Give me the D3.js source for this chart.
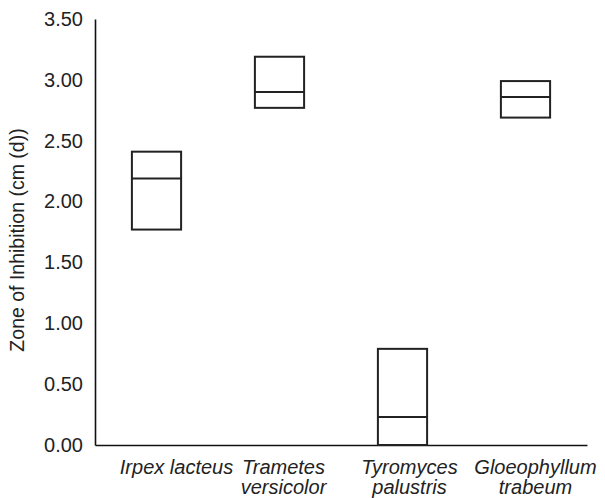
<!DOCTYPE html>
<html>
<head>
<meta charset="utf-8">
<script src="https://cdn.jsdelivr.net/npm/d3@7"></script>
<style>
  html, body { margin: 0; padding: 0; background: #fff; }
  svg text { font-family: "Liberation Sans", Arial, sans-serif; fill: #222; }
</style>
</head>
<body>
<svg id="chart" width="605" height="498"></svg>
<script>
// Fungal species (each label line drawn separately)
const categories = ["Irpex lacteus", "Trametes versicolor", "Tyromyces palustris", "Gloeophyllum trabeum"];
const categoryLines = [["Irpex lacteus"], ["Trametes", "versicolor"], ["Tyromyces", "palustris"], ["Gloeophyllum", "trabeum"]];

// Zone of inhibition, cm: box bottom, median line, box top
const lowValues    = [1.77, 2.77, 0.00, 2.69];
const medianValues = [2.19, 2.90, 0.23, 2.86];
const highValues   = [2.41, 3.19, 0.79, 2.99];

const yTicks = [0, 0.5, 1, 1.5, 2, 2.5, 3, 3.5];
const yTitle = "Zone of Inhibition (cm (d))";

const svg = d3.select("#chart");
const margin = { left: 95, right: 18, top: 19, bottom: 53 };
const W = 605, H = 498;

const x = d3.scaleBand()
  .domain(categories)
  .range([margin.left, W - margin.right])
  .paddingInner(0.6)
  .paddingOuter(0.3);

const y = d3.scaleLinear()
  .domain([0, 3.5])
  .range([H - margin.bottom, margin.top]);

// Horizontal offsets of the category captions relative to their band centres
const labelShift = [20, 4, 7, 10];

// Y axis
const yAxis = svg.append("g")
  .attr("transform", `translate(${margin.left},0)`)
  .call(d3.axisLeft(y).tickValues(yTicks).tickFormat(d3.format(".2f")).tickSize(0).tickPadding(12));
yAxis.select(".domain").attr("stroke", "#111").attr("stroke-width", 1.6);
yAxis.selectAll("text").attr("font-size", 20).attr("font-family", null).attr("fill", "#222");

// X axis
const xAxis = svg.append("g")
  .attr("transform", `translate(0,${y(0)})`)
  .call(d3.axisBottom(x).tickSize(0).tickFormat(""));
xAxis.select(".domain").attr("stroke", "#111").attr("stroke-width", 1.6);
xAxis.selectAll(".tick").each(function(d, i) {
  const t = d3.select(this).append("text")
    .attr("text-anchor", "middle")
    .attr("font-size", 20)
    .attr("font-style", "italic")
    .attr("x", labelShift[i])
    .attr("y", 29);
  categoryLines[i].forEach((line, j) => {
    t.append("tspan").attr("x", labelShift[i]).attr("dy", j === 0 ? 0 : 20).text(line);
  });
});

// Boxes
const boxes = svg.append("g");
categories.forEach((c, i) => {
  boxes.append("rect")
    .attr("x", x(c))
    .attr("y", y(highValues[i]))
    .attr("width", x.bandwidth())
    .attr("height", y(lowValues[i]) - y(highValues[i]))
    .attr("fill", "none")
    .attr("stroke", "#222")
    .attr("stroke-width", 2);
  boxes.append("line")
    .attr("x1", x(c)).attr("x2", x(c) + x.bandwidth())
    .attr("y1", y(medianValues[i])).attr("y2", y(medianValues[i]))
    .attr("stroke", "#222")
    .attr("stroke-width", 2);
});

// Y axis title
svg.append("text")
  .attr("transform", `translate(24,${(y(0) + y(3.5)) / 2 + 8}) rotate(-90)`)
  .attr("text-anchor", "middle")
  .attr("font-size", 19.5)
  .text(yTitle);
</script>
</body>
</html>
